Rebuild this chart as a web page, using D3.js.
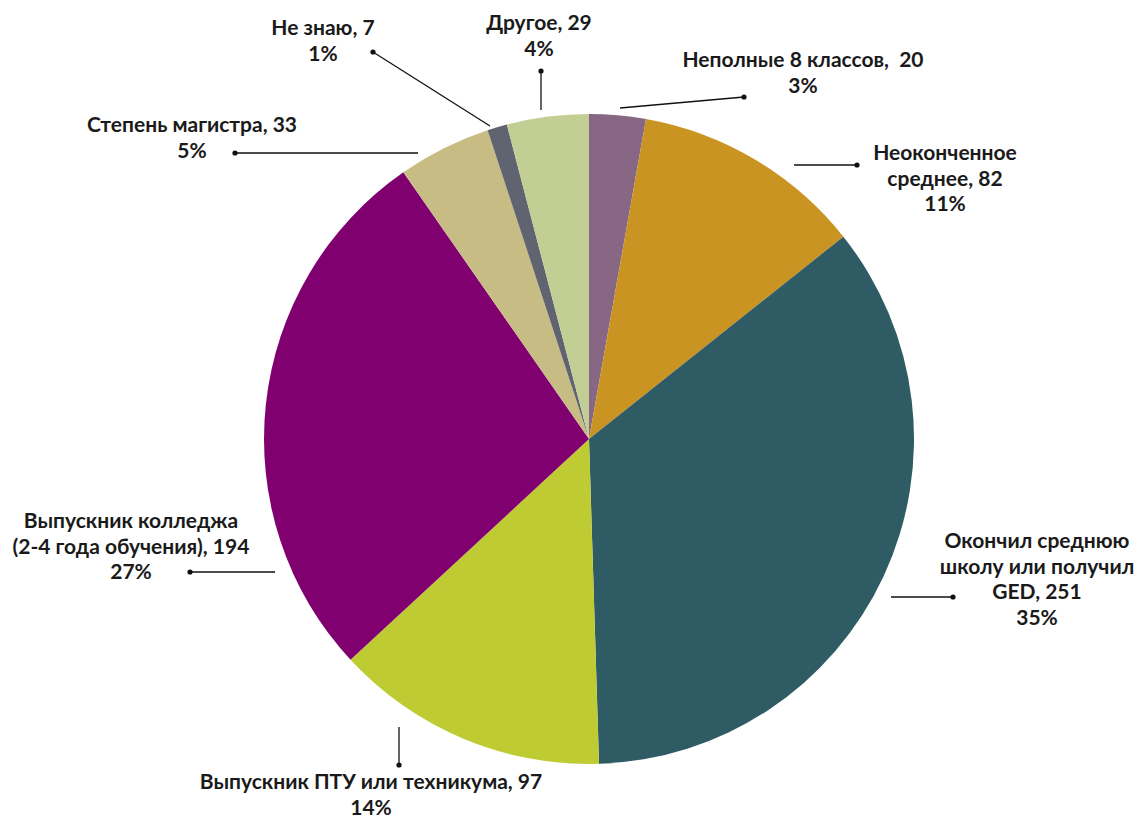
<!DOCTYPE html>
<html><head><meta charset="utf-8">
<script src="https://cdn.jsdelivr.net/npm/d3@7"></script>
<style>body{margin:0;background:#fff}svg{display:block}text{font-family:Lato,"Open Sans",sans-serif;font-weight:bold;fill:#1a1a1a;white-space:pre}</style>
</head><body><svg id="c" width="1138" height="821"></svg>
<script>
const categories = ["Неполные 8 классов,  20","Неоконченное среднее, 82","Окончил среднюю школу или получил GED, 251","Выпускник ПТУ или техникума, 97","Выпускник колледжа (2-4 года обучения), 194","Степень магистра, 33","Не знаю, 7","Другое, 29"];
const values = [20, 82, 251, 97, 194, 33, 7, 29];
const labelLines = [
  ["Неполные 8 классов,  20","3%"],
  ["Неоконченное","среднее, 82","11%"],
  ["Окончил среднюю","школу или получил","GED, 251","35%"],
  ["Выпускник ПТУ или техникума, 97","14%"],
  ["Выпускник колледжа","(2-4 года обучения), 194","27%"],
  ["Степень магистра, 33","5%"],
  ["Не знаю, 7","1%"],
  ["Другое, 29","4%"]
];
const colors = ["#876784","#C99421","#2F5C64","#BFCB33","#810070","#C8BC85","#5F6470","#C2CE93"];
// layout: label center x, first baseline y, leader line [x1,y1,xdot,ydot]
const layout = [
  {x:803,y:67,l:[620,108,744,97]},
  {x:945,y:160,l:[794,165,857,165]},
  {x:1037,y:548,l:[891,597,953,597]},
  {x:371,y:789,l:[399,727,399,765]},
  {x:131,y:528,l:[275,572,190,572]},
  {x:192,y:132,l:[418,153,235,153]},
  {x:323,y:35,l:[490,126,373,52]},
  {x:539,y:30,l:[541,110,541,71]}
];
const svg = d3.select("#c");
const cx = 589, cy = 439, R = 325;
const pie = d3.pie().sort(null).value(d=>d)(values);
const arc = d3.arc().innerRadius(0).outerRadius(R);
const g = svg.append("g").attr("transform",`translate(${cx},${cy})`);
g.selectAll("path").data(pie).join("path").attr("d",arc).attr("fill",(d,i)=>colors[i]);
const lh = 25.5;
layout.forEach((p,i)=>{
  svg.append("line").attr("x1",p.l[0]).attr("y1",p.l[1]).attr("x2",p.l[2]).attr("y2",p.l[3]).attr("stroke","#111").attr("stroke-width",1.3);
  svg.append("circle").attr("cx",p.l[2]).attr("cy",p.l[3]).attr("r",2.6).attr("fill","#111");
  const t = svg.append("text").attr("text-anchor","middle").attr("font-size",21).attr("xml:space","preserve");
  labelLines[i].forEach((s,j)=>t.append("tspan").attr("x",p.x).attr("y",p.y+j*lh).text(s));
});
</script></body></html>
